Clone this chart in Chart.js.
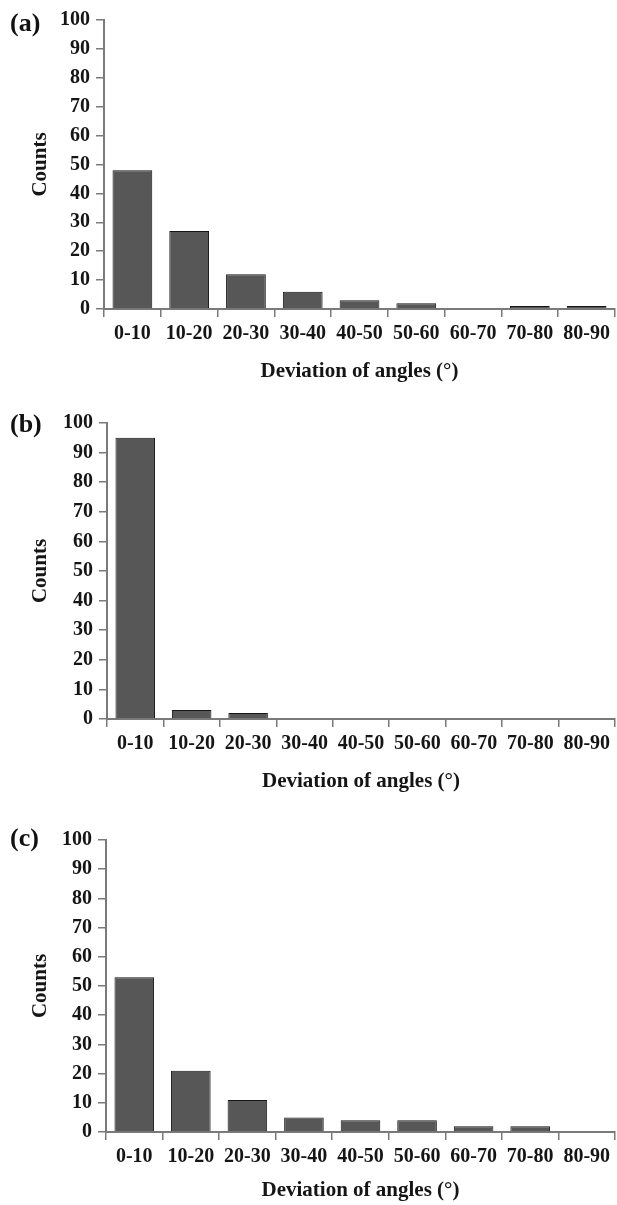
<!DOCTYPE html>
<html>
<head>
<meta charset="utf-8">
<script src="https://cdn.jsdelivr.net/npm/chart.js@4"></script>
<style>
    body { margin: 0; background: #fff; width: 617px; height: 1205px; position: relative; overflow: hidden; }
    .panel { position: absolute; left: 0; width: 617px; }
    .tag { position: absolute; left: 10px; font: bold 26px "Liberation Serif", serif; line-height: 1; color: #111; }
</style>
</head>
<body>
<div class="panel" id="pa" style="top:0;height:400px"><canvas id="chartA"></canvas></div>
<div class="panel" id="pb" style="top:400px;height:400px"><canvas id="chartB"></canvas></div>
<div class="panel" id="pc" style="top:800px;height:405px"><canvas id="chartC"></canvas></div>
<span class="tag" style="top:10px">(a)</span>
<span class="tag" style="top:411px">(b)</span>
<span class="tag" style="top:825px">(c)</span>
<script>
const angleBins = ['0-10', '10-20', '20-30', '30-40', '40-50', '50-60', '60-70', '70-80', '80-90'];
const countsA = [48, 27, 12, 6, 3, 2, 0, 1, 1];
const countsB = [95, 3, 2, 0, 0, 0, 0, 0, 0];
const countsC = [53, 21, 11, 5, 4, 4, 2, 2, 0];
const yMin = 0;
const yMax = 100;
const yStep = 10;
const xTitle = 'Deviation of angles (°)';
const yTitle = 'Counts';

const axisGray = '#7a7a7a';
const textColor = '#151515';
const barFill = '#575757';
const barEdge = '#151515';
const serif = "'Liberation Serif', 'Times New Roman', serif";

function makeChart(canvasId, counts, layout) {
    const ctx = document.getElementById(canvasId).getContext('2d');
    return new Chart(ctx, {
        type: 'bar',
        data: {
            labels: angleBins,
            datasets: [{
                data: counts,
                backgroundColor: barFill,
                borderColor: barEdge,
                borderWidth: 1,
                borderSkipped: 'bottom',
                categoryPercentage: 1.0,
                barPercentage: 0.7
            }]
        },
        options: {
            responsive: true,
            maintainAspectRatio: false,
            animation: false,
            layout: { padding: { top: layout.top, right: 2, bottom: 0, left: 0 } },
            plugins: { legend: { display: false }, tooltip: { enabled: false } },
            scales: {
                x: {
                    offset: true,
                    grid: { display: true, offset: true, drawOnChartArea: false, drawTicks: true, tickLength: 8, color: axisGray, lineWidth: 1.5 },
                    border: { display: true, color: axisGray, width: 2 },
                    ticks: { color: textColor, padding: 5, maxRotation: 0, autoSkip: false, font: { family: serif, size: 20, weight: 'bold' } },
                    title: { display: true, text: xTitle, color: textColor, padding: { top: 0, bottom: layout.titlePad }, font: { family: serif, size: 21, weight: 'bold' } },
                    afterFit: s => { s.height = layout.xHeight; }
                },
                y: {
                    min: yMin,
                    max: yMax,
                    grid: { display: true, drawOnChartArea: false, drawTicks: true, tickLength: 8, color: axisGray, lineWidth: 1.5 },
                    border: { display: true, color: axisGray, width: 2 },
                    ticks: { stepSize: yStep, color: textColor, padding: 6, font: { family: serif, size: 20, weight: 'bold' } },
                    title: { display: true, text: yTitle, color: textColor, padding: { top: 28, bottom: 0 }, font: { family: serif, size: 21, weight: 'bold' } },
                    afterFit: s => { s.width = layout.yWidth; }
                }
            }
        }
    });
}

makeChart('chartA', countsA, { top: 20, xHeight: 91, titlePad: 16, yWidth: 104 });
makeChart('chartB', countsB, { top: 23, xHeight: 81, titlePad: 6, yWidth: 107 });
makeChart('chartC', countsC, { top: 40, xHeight: 73, titlePad: 2, yWidth: 106 });
</script>
</body>
</html>
